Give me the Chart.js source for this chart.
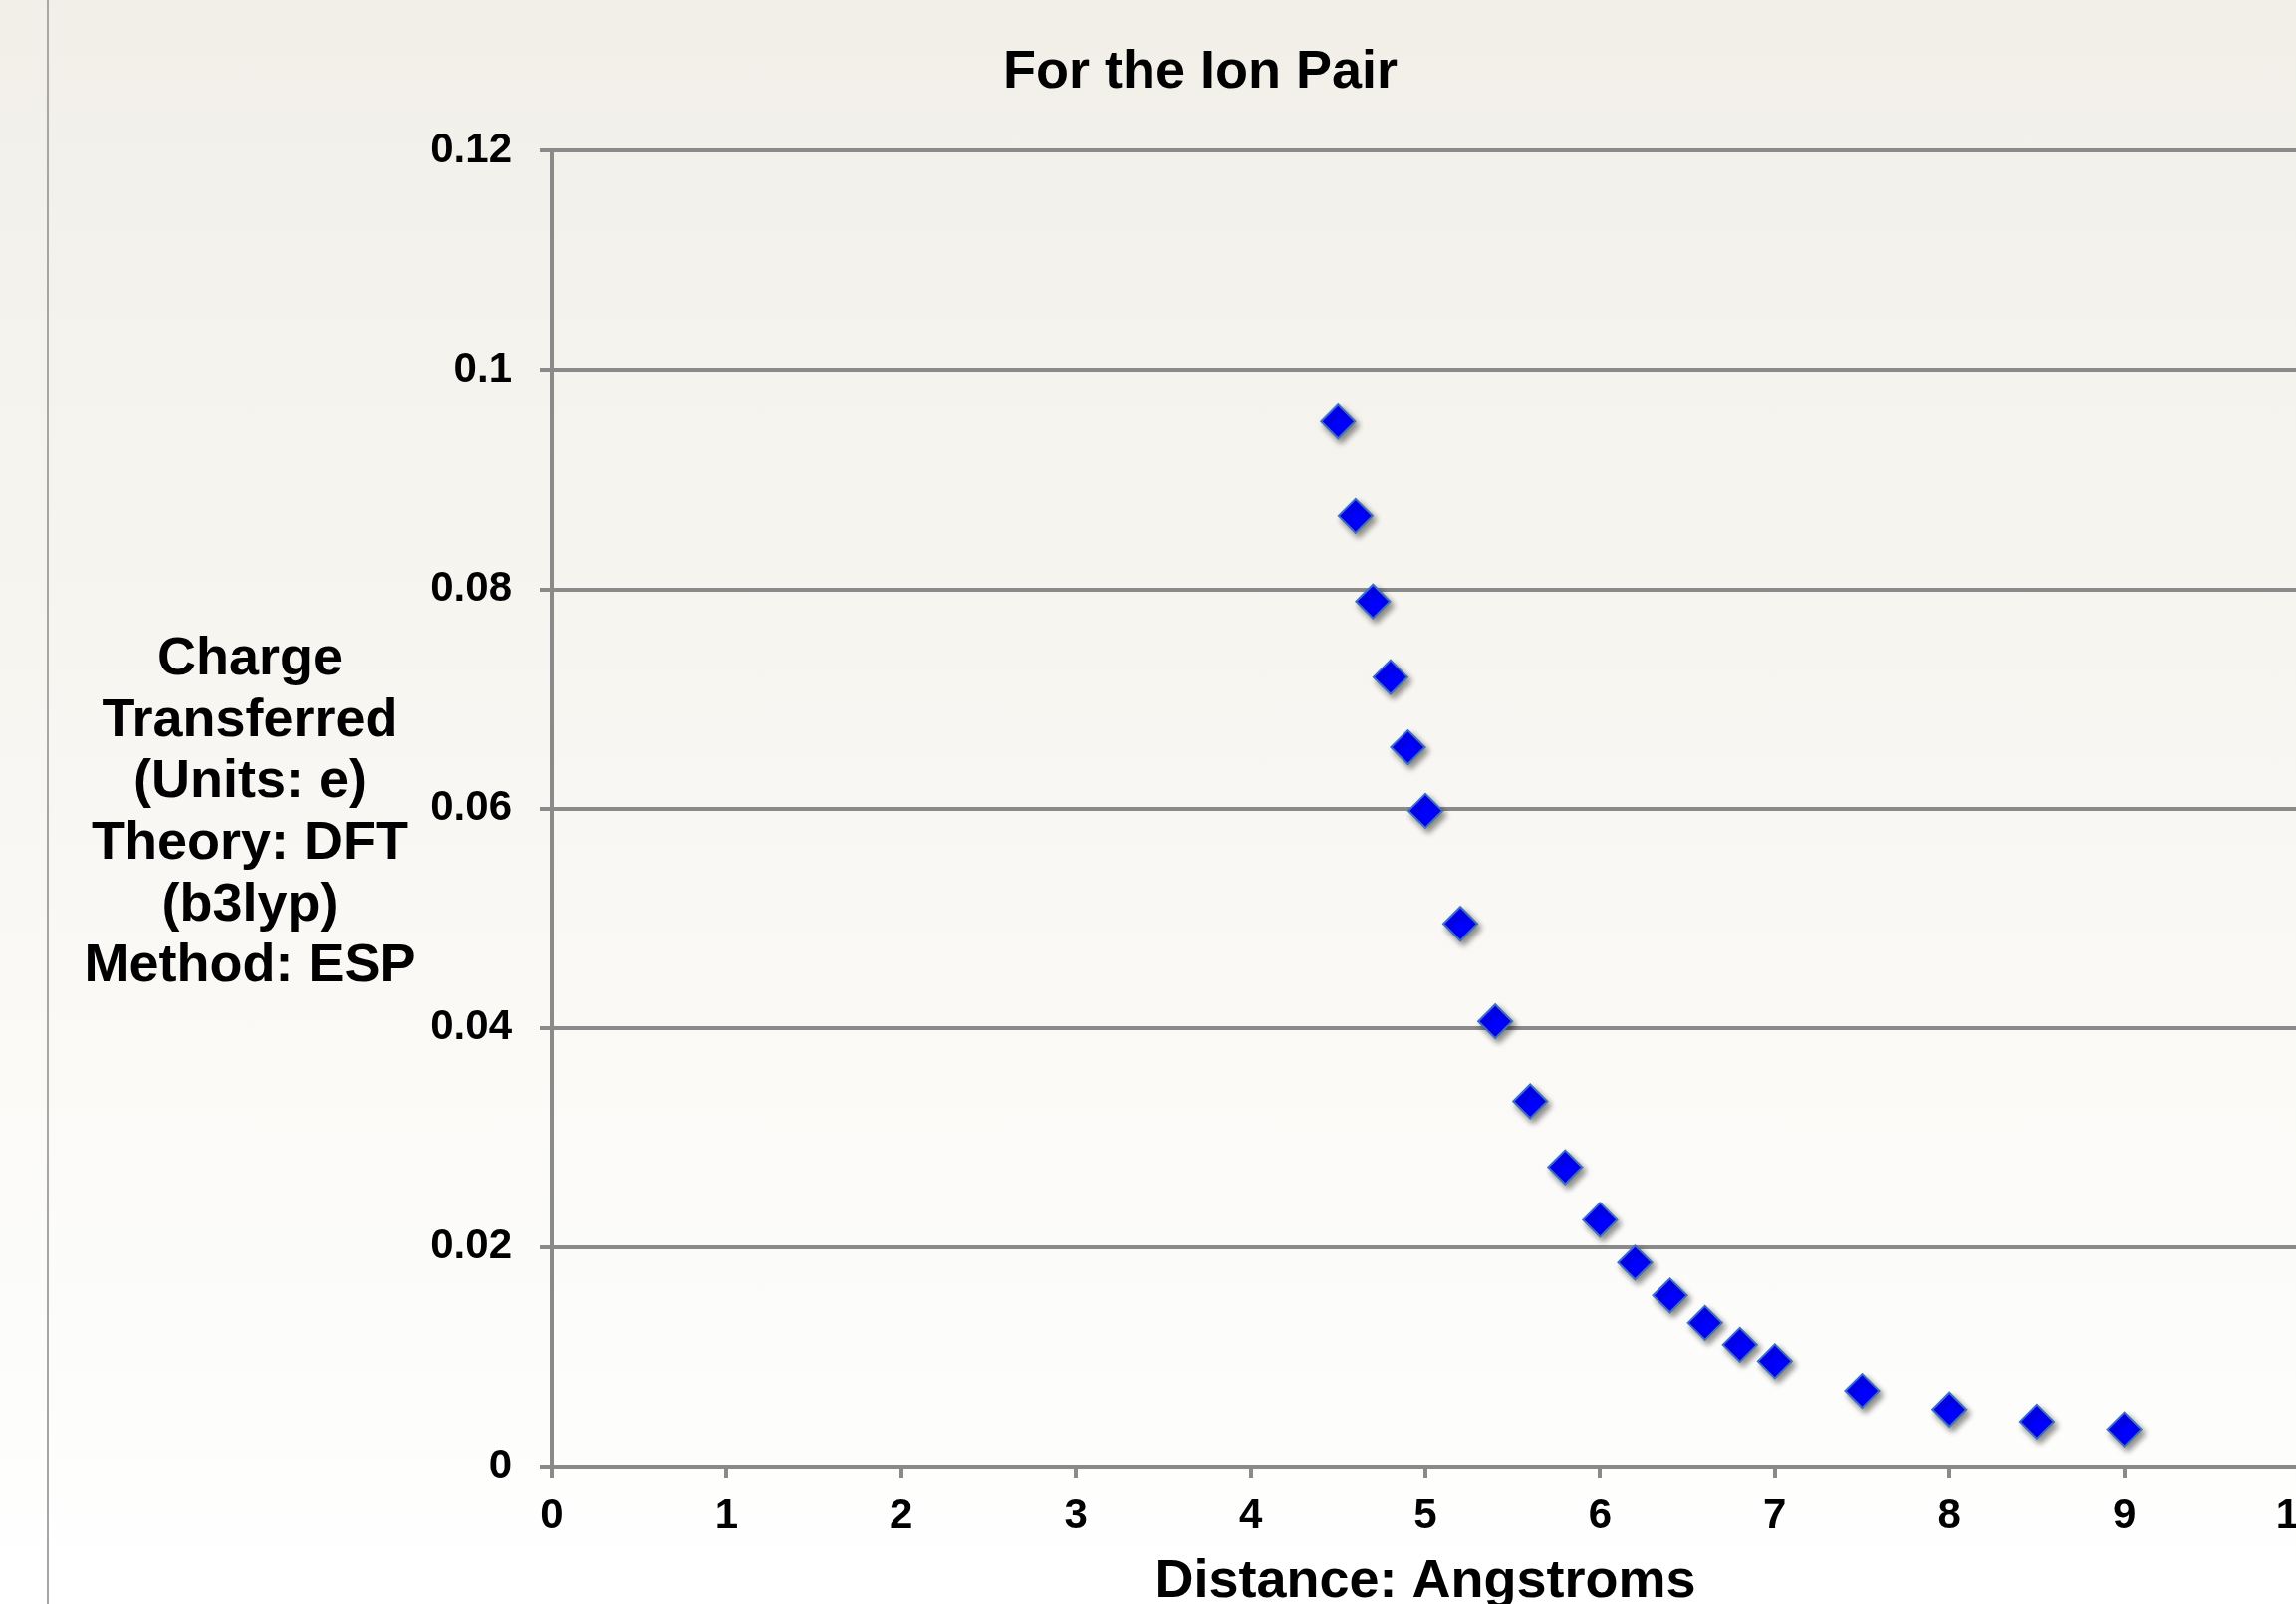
<!DOCTYPE html>
<html>
<head>
<meta charset="utf-8">
<script src="https://cdn.jsdelivr.net/npm/chart.js@4/dist/chart.umd.min.js"></script>
<style>
  html, body { margin: 0; padding: 0; width: 2305px; height: 1610px; overflow: hidden; }
  body { background: linear-gradient(to bottom, #f1efe8 0%, #f8f7f3 50%, #ffffff 100%); position: relative; }
  #edge { position: absolute; left: 47px; top: 0; width: 2px; height: 1610px; background: #a6a6a6; }
  #wrap { position: absolute; left: 0; top: 0; width: 2400px; height: 1700px; }
</style>
</head>
<body>
<div id="edge"></div>
<div id="wrap"><canvas id="c" width="2400" height="1700" style="width:2400px;height:1700px"></canvas></div>
<script>
const chartTitle = 'For the Ion Pair';
const xAxisTitle = 'Distance: Angstroms';
const yAxisTitleLines = ['Charge', 'Transferred', '(Units: e)', 'Theory: DFT', '(b3lyp)', 'Method: ESP'];
const distances = [4.5, 4.6, 4.7, 4.8, 4.9, 5.0, 5.2, 5.4, 5.6, 5.8, 6.0, 6.2, 6.4, 6.6, 6.8, 7.0, 7.5, 8.0, 8.5, 9.0];
const chargeTransferred = [0.0953, 0.0867, 0.0789, 0.0720, 0.0656, 0.0598, 0.0495, 0.0406, 0.0333, 0.0273, 0.0225, 0.0186, 0.0156, 0.0131, 0.0111, 0.0096, 0.0069, 0.0052, 0.0041, 0.0034];
const xTickLabels = ['0', '1', '2', '3', '4', '5', '6', '7', '8', '9', '10'];
const yTickLabels = ['0', '0.02', '0.04', '0.06', '0.08', '0.1', '0.12'];

const FONT = '"Liberation Sans", Arial, Helvetica, sans-serif';
const GRID = '#8a8a8a';

const points = distances.map((d, i) => ({ x: d, y: chargeTransferred[i] }));

const shadowPlugin = {
  id: 'shadow',
  beforeDatasetsDraw(chart) {
    const ctx = chart.ctx;
    ctx.save();
    ctx.shadowColor = 'rgba(0,0,0,0.45)';
    ctx.shadowBlur = 6;
    ctx.shadowOffsetX = 3;
    ctx.shadowOffsetY = 4;
  },
  afterDatasetsDraw(chart) { chart.ctx.restore(); }
};

const textPlugin = {
  id: 'texts',
  afterDraw(chart) {
    const ctx = chart.ctx;
    const a = chart.chartArea;
    ctx.save();
    ctx.fillStyle = '#000';
    ctx.font = 'bold 54px ' + FONT;
    ctx.textAlign = 'center';
    ctx.textBaseline = 'alphabetic';
    ctx.fillText(chartTitle, 1205, 88);
    const lh = 61.7;
    const cy = (a.top + a.bottom) / 2;
    const n = yAxisTitleLines.length;
    yAxisTitleLines.forEach((t, i) => {
      ctx.fillText(t, 251, cy + (i - (n - 1) / 2) * lh + 19.5);
    });
    ctx.restore();
  }
};

new Chart(document.getElementById('c'), {
  type: 'scatter',
  data: {
    datasets: [{
      data: points,
      pointStyle: 'rectRot',
      pointRadius: 17,
      pointHoverRadius: 17,
      pointBackgroundColor: '#0000ff',
      pointBorderColor: '#3d6fc2',
      pointBorderWidth: 2,
      showLine: false
    }]
  },
  options: {
    responsive: false,
    devicePixelRatio: 1,
    animation: false,
    layout: { padding: { top: 151.4, right: 92, bottom: 0, left: 0 } },
    plugins: { legend: { display: false }, title: { display: false }, tooltip: { enabled: false } },
    scales: {
      x: {
        type: 'linear',
        min: 0, max: 10,
        afterFit(s) { s.height = 1700 - 1472; },
        ticks: {
          stepSize: 1,
          color: '#000',
          padding: 13,
          font: { family: FONT, size: 42, weight: 'bold' },
          callback: (v) => xTickLabels[Math.round(v)]
        },
        grid: { drawOnChartArea: false, drawTicks: true, tickLength: 12, color: GRID, lineWidth: 4 },
        border: { display: true, color: GRID, width: 4 },
        title: {
          display: true,
          text: xAxisTitle,
          color: '#000',
          font: { family: FONT, size: 54, weight: 'bold' },
          padding: { top: 0, bottom: 79.6 }
        }
      },
      y: {
        type: 'linear',
        min: 0, max: 0.12,
        afterFit(s) { s.width = 554; },
        ticks: {
          stepSize: 0.02,
          color: '#000',
          padding: 28,
          font: { family: FONT, size: 42, weight: 'bold' },
          callback: (v) => yTickLabels[Math.round(v / 0.02)]
        },
        grid: { drawOnChartArea: true, drawTicks: true, tickLength: 12, color: GRID, lineWidth: 4 },
        border: { display: true, color: GRID, width: 4 }
      }
    }
  },
  plugins: [shadowPlugin, textPlugin]
});
</script>
</body>
</html>
